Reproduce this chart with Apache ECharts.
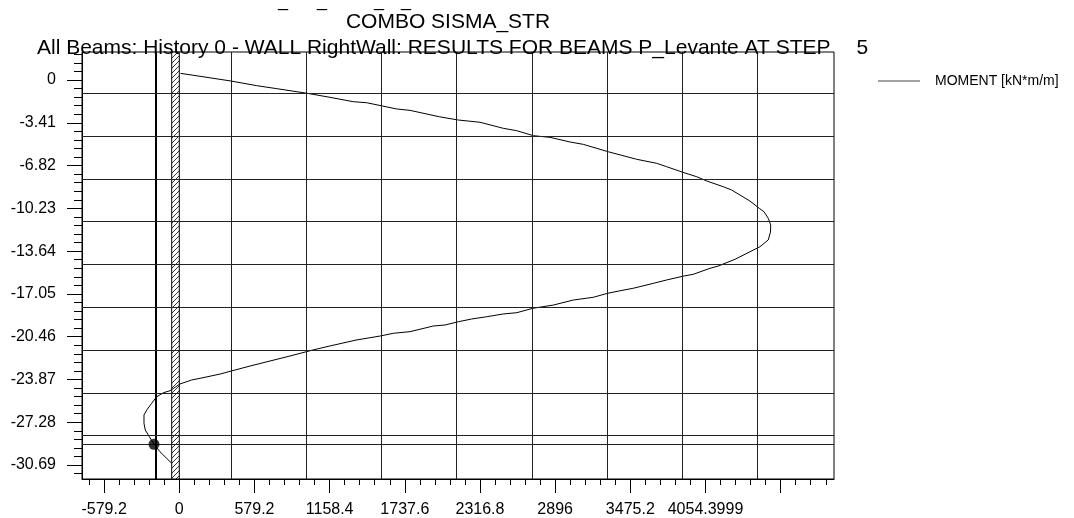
<!DOCTYPE html>
<html>
<head>
<meta charset="utf-8">
<script src="https://cdn.jsdelivr.net/npm/echarts@6/dist/echarts.min.js"></script>
<style>
html,body{margin:0;padding:0;background:#fff;}
#chart{width:1074px;height:518px;}
</style>
</head>
<body>
<div id="chart"></div>
<script>
// ---- data ----
const momentValues = [10, 398, 596, 751, 986, 1161, 1341, 1444, 1564, 1675, 1778, 2003, 2150, 2317, 2496, 2600, 2728, 2856, 3010, 3113, 3305, 3524, 3678, 3755, 3889, 3987, 4064, 4192, 4256, 4320, 4397, 4469, 4505, 4538, 4557, 4555, 4538, 4474, 4397, 4282, 4153, 4089, 3960, 3889, 3755, 3652, 3498, 3396, 3301, 3190, 3036, 2882, 2723, 2600, 2496, 2369, 2253, 2150, 2047, 1957, 1778, 1649, 1546, 1362, 1161, 1030, 853, 699, 545, 429, 314, 160, 96, 5, -72, -123, -174, -213, -251, -272, -272, -262, -231, -195, -149, -97, -59];
const depthValues = [0.53, -0.08, -0.45, -0.69, -1.06, -1.38, -1.73, -1.81, -2.07, -2.31, -2.42, -2.93, -3.19, -3.37, -3.85, -4.04, -4.44, -4.57, -4.94, -5.13, -5.72, -6.32, -6.64, -6.91, -7.39, -7.71, -8.05, -8.51, -8.77, -9.17, -9.65, -10.23, -10.50, -11.02, -11.56, -12.12, -12.75, -13.29, -13.69, -14.29, -14.83, -15.01, -15.49, -15.62, -15.94, -16.21, -16.60, -16.80, -17.00, -17.32, -17.54, -17.94, -18.20, -18.55, -18.65, -18.87, -19.05, -19.27, -19.53, -19.61, -20.06, -20.19, -20.41, -20.73, -21.20, -21.52, -22.00, -22.40, -22.80, -23.12, -23.44, -23.78, -23.91, -24.23, -24.77, -24.93, -25.25, -25.77, -26.31, -26.70, -27.37, -27.90, -28.43, -29.02, -29.63, -30.16, -30.55];

const xTickValues = [-579.2, 0, 579.2, 1158.4, 1737.6, 2316.8, 2896, 3475.2, 4054.4, 4633.6];
const xTickLabels = ['-579.2', '0', '579.2', '1158.4', '1737.6', '2316.8', '2896', '3475.2', '4054.3999', ''];
const yTickValues = [0, -3.41, -6.82, -10.23, -13.64, -17.05, -20.46, -23.87, -27.28, -30.69];
const yTickLabels = ['0', '-3.41', '-6.82', '-10.23', '-13.64', '-17.05', '-20.46', '-23.87', '-27.28', '-30.69'];

const xGridValues = [-179.5, 399.7, 978.9, 1558.1, 2137.3, 2716.5, 3295.7, 3874.9, 4454.1];
const yGridValues = [-1.06, -4.47, -7.88, -11.29, -14.70, -18.11, -21.52, -24.93, -28.34];

const cursorPoint = [-195, -29.04];
const wallRange = [-58.6, 0];

const titleMain = 'COMBO SISMA_STR';
const titleSub = 'All Beams: History 0 - WALL RightWall: RESULTS FOR BEAMS P_Levante AT STEP';
const titleStep = '5';
const seriesName = 'MOMENT [kN*m/m]';

// ---- layout ----
const X_MIN = -749.7, X_MAX = 5044.5;
const Y_MIN = -31.805, Y_MAX = 2.232;

function minorValues(majors, sub, lo, hi) {
  const step = (majors[1] - majors[0]) / sub;
  const out = [];
  const start = majors[0];
  for (let k = -50; k <= 200; k++) {
    const v = +(start + k * step).toFixed(4);
    if (v < lo || v > hi) continue;
    const isMajor = majors.some(m => Math.abs(m - v) < 1e-3);
    if (!isMajor) out.push(v);
  }
  return out;
}
const xMinor = minorValues(xTickValues, 5, X_MIN, X_MAX);
const yMinor = minorValues(yTickValues, 5, Y_MIN, Y_MAX);

function labelFor(vals, labels) {
  return function (v) {
    const i = vals.findIndex(m => Math.abs(m - v) < 1e-3);
    return i >= 0 ? labels[i] : '';
  };
}

// hatch pattern
const pc = document.createElement('canvas');
pc.width = 5; pc.height = 5;
const pctx = pc.getContext('2d');
pctx.fillStyle = '#fff';
pctx.fillRect(0, 0, 5, 5);
pctx.strokeStyle = '#000';
pctx.lineWidth = 0.8;
pctx.beginPath();
pctx.moveTo(0, 5); pctx.lineTo(5, 0);
pctx.moveTo(-1, 1); pctx.lineTo(1, -1);
pctx.moveTo(4, 6); pctx.lineTo(6, 4);
pctx.stroke();

const FONT = '"Liberation Sans", Arial, sans-serif';
const chart = echarts.init(document.getElementById('chart'), null, { renderer: 'canvas' });

// measure sub title to place step number
const mctx = document.createElement('canvas').getContext('2d');
mctx.font = '21px ' + FONT;
const subWidth = mctx.measureText(titleSub).width;

const gridLineData = xGridValues.map((v, i) => ({ xAxis: v, lineStyle: i === 0 ? { width: 2, color: '#000' } : {} }))
  .concat(yGridValues.map(v => ({ yAxis: v })))
  .concat([{ yAxis: cursorPoint[1] }]);

const option = {
  animation: false,
  backgroundColor: '#fff',
  textStyle: { fontFamily: FONT },
  grid: {
    left: 82, top: 52, width: 752, height: 427,
    show: true, borderColor: '#000', borderWidth: 1, backgroundColor: '#fff'
  },
  legend: {
    data: [seriesName],
    left: 873, top: 69,
    icon: 'rect', itemWidth: 42, itemHeight: 1, itemGap: 10,
    textStyle: { fontSize: 14, color: '#000', fontFamily: FONT, padding: [0, 0, 0, 10] },
    itemStyle: { color: '#444' }
  },
  graphic: [
    { type: 'text', x: 448, y: 12, style: { text: titleMain, font: '21px ' + FONT, fill: '#000', align: 'center' }, z: 100 },
    { type: 'text', x: 37, y: 38, style: { text: titleSub, font: '21px ' + FONT, fill: '#000' }, z: 100 },
    { type: 'text', x: 37 + subWidth + 26, y: 38, style: { text: titleStep, font: '21px ' + FONT, fill: '#000' }, z: 100 },
    { type: 'text', x: 278, y: -8, style: { text: '_', font: '18px ' + FONT, fill: '#000' }, z: 100 },
    { type: 'text', x: 317, y: -8, style: { text: '_', font: '18px ' + FONT, fill: '#000' }, z: 100 },
    { type: 'text', x: 374, y: -8, style: { text: '_', font: '18px ' + FONT, fill: '#000' }, z: 100 },
    { type: 'text', x: 401, y: -8, style: { text: '_', font: '18px ' + FONT, fill: '#000' }, z: 100 }
  ],
  xAxis: [
    {
      type: 'value', position: 'bottom', min: X_MIN, max: X_MAX,
      axisLine: { show: true, onZero: false, lineStyle: { color: '#000', width: 1 } },
      axisTick: { show: true, customValues: xTickValues, length: 14, lineStyle: { color: '#000' } },
      axisLabel: { show: true, customValues: xTickValues.slice(0, 9), formatter: labelFor(xTickValues, xTickLabels),
        fontSize: 16, color: '#000', margin: 23, fontFamily: FONT },
      splitLine: { show: false }
    },
    {
      type: 'value', position: 'bottom', min: X_MIN, max: X_MAX,
      axisLine: { show: false, onZero: false },
      axisTick: { show: true, customValues: xMinor, length: 6, lineStyle: { color: '#000' } },
      axisLabel: { show: false },
      splitLine: { show: false }
    }
  ],
  yAxis: [
    {
      type: 'value', position: 'left', min: Y_MIN, max: Y_MAX,
      axisLine: { show: true, onZero: false, lineStyle: { color: '#000', width: 1 } },
      axisTick: { show: true, customValues: yTickValues, length: 15, lineStyle: { color: '#000' } },
      axisLabel: { show: true, customValues: yTickValues, formatter: labelFor(yTickValues, yTickLabels),
        fontSize: 16, color: '#000', margin: 26, fontFamily: FONT },
      splitLine: { show: false }
    },
    {
      type: 'value', position: 'left', min: Y_MIN, max: Y_MAX,
      axisLine: { show: false, onZero: false },
      axisTick: { show: true, customValues: yMinor, length: 8, lineStyle: { color: '#000' } },
      axisLabel: { show: false },
      splitLine: { show: false }
    }
  ],
  series: [
    {
      name: 'grid', type: 'line', data: [], xAxisIndex: 0, yAxisIndex: 0, z: 1, silent: true,
      markLine: {
        silent: true, symbol: ['none', 'none'], animation: false,
        label: { show: false },
        lineStyle: { color: '#222', width: 1, type: 'solid' },
        data: gridLineData
      }
    },
    {
      name: seriesName, type: 'line', xAxisIndex: 0, yAxisIndex: 0, z: 3,
      data: momentValues.map((v, i) => [v, depthValues[i]]),
      showSymbol: false, symbol: 'none', smooth: false,
      lineStyle: { color: '#000', width: 1 },
      itemStyle: { color: '#000' }
    },
    {
      name: 'wall', type: 'line', data: [], xAxisIndex: 0, yAxisIndex: 0, z: 5, silent: true,
      markArea: {
        silent: true,
        itemStyle: { color: { image: pc, repeat: 'repeat' }, borderColor: '#000', borderWidth: 1, opacity: 1 },
        label: { show: false },
        data: [[{ xAxis: wallRange[0], yAxis: Y_MIN }, { xAxis: wallRange[1], yAxis: Y_MAX }]]
      }
    },
    {
      name: 'cursor', type: 'scatter', xAxisIndex: 0, yAxisIndex: 0, z: 6,
      data: [cursorPoint], symbol: 'circle', symbolSize: 11,
      itemStyle: { color: '#000' }
    }
  ]
};
chart.setOption(option);
</script>
</body>
</html>
